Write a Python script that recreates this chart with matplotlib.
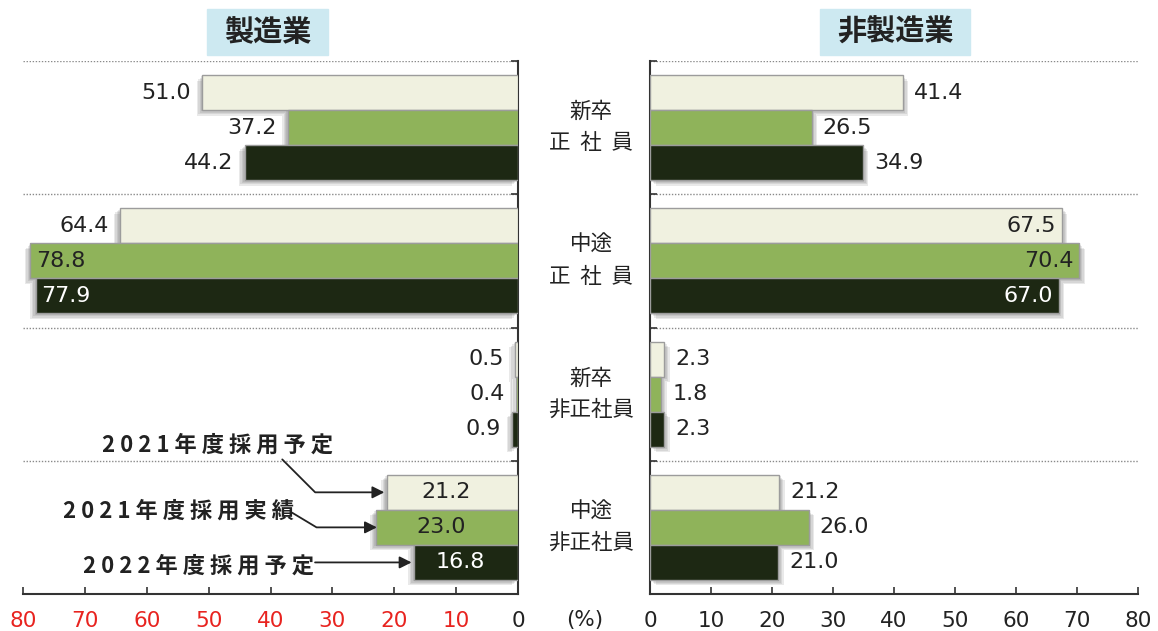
import numpy as np
import matplotlib.pyplot as plt
import matplotlib.patches as mpatches
import matplotlib.patheffects as pe

plt.rcParams['font.family'] = ['Noto Sans CJK JP', 'DejaVu Sans']

groups = ['新卒\n正  社  員', '中途\n正  社  員', '新卒\n非正社員', '中途\n非正社員']
series = ['2021年度採用予定', '2021年度採用実績', '2022年度採用予定']

# 製造業
mfg_plan21 = [51.0, 64.4, 0.5, 21.2]
mfg_act21 = [37.2, 78.8, 0.4, 23.0]
mfg_plan22 = [44.2, 77.9, 0.9, 16.8]

# 非製造業
non_plan21 = [41.4, 67.5, 2.3, 21.2]
non_act21 = [26.5, 70.4, 1.8, 26.0]
non_plan22 = [34.9, 67.0, 2.3, 21.0]

xticks = [0, 10, 20, 30, 40, 50, 60, 70, 80]

colors = ['#f0f1e0', '#8fb35a', '#1d2813']
text_cols = ['#222222', '#222222', 'white']
bar_h = 0.263
offs = [-bar_h, 0, bar_h]
num_font = dict(family='DejaVu Sans', fontsize=16)

fig = plt.figure(figsize=(11.58, 6.31), dpi=100)
axL = fig.add_axes([23/1158, 1 - 594/631, 495/1158, 533/631])
axR = fig.add_axes([650/1158, 1 - 594/631, 488/1158, 533/631])


def shadow(sign):
    fx = [pe.SimplePatchShadow(offset=(sign * d, -d), shadow_rgbFace='0.35', alpha=0.13)
          for d in (1, 2, 3, 4)]
    return fx + [pe.Normal()]


def draw_panel(ax, data, left):
    sign = -1 if left else 1
    y = np.arange(len(groups)) + 0.5
    for k, vals in enumerate(data):
        bars = ax.barh(y + offs[k], vals, height=bar_h, color=colors[k],
                       edgecolor='#9c9c9c', linewidth=1.0, zorder=3)
        for b in bars:
            b.set_path_effects(shadow(sign))
        for i, v in enumerate(vals):
            yy = y[i] + offs[k]
            lab = f'{v:.1f}'
            if left and i == 3:
                ax.text(v / 2 + 1, yy, lab, ha='center', va='center',
                        color=text_cols[k], zorder=5, **num_font)
            elif v > 65:
                ax.annotate(lab, (v, yy), xytext=(-sign * 4, 0), textcoords='offset points',
                            ha='left' if left else 'right', va='center',
                            color=text_cols[k], zorder=5, **num_font)
            else:
                ax.annotate(lab, (v, yy), xytext=(sign * 8, 0), textcoords='offset points',
                            ha='right' if left else 'left', va='center',
                            color='#222222', zorder=5, **num_font)
    # separators
    for s in range(len(groups)):
        ax.axhline(s, color='#8a8a8a', lw=1, ls=(0, (1, 1.2)), zorder=1)
    ax.set_ylim(len(groups), 0)
    ax.set_xlim(80, 0) if left else ax.set_xlim(0, 80)
    ax.set_yticks(range(len(groups)))
    ax.set_yticklabels([])
    ax.set_xticks(xticks)
    ax.set_xticklabels([str(t) for t in xticks], family='DejaVu Sans', fontsize=15.5)
    ax.tick_params(axis='both', direction='in', length=5, width=1.2, color='#333333')
    ax.tick_params(axis='x', pad=12)
    for sp in ['top', 'left', 'right']:
        ax.spines[sp].set_visible(False)
    ax.spines['bottom'].set_linewidth(1.5)
    ax.spines['bottom'].set_color('#333333')
    side = 'right' if left else 'left'
    ax.spines[side].set_visible(True)
    ax.spines[side].set_linewidth(1.5)
    ax.spines[side].set_color('#333333')
    if left:
        ax.yaxis.tick_right()
    ax.set_facecolor('none')


draw_panel(axL, [mfg_plan21, mfg_act21, mfg_plan22], True)
draw_panel(axR, [non_plan21, non_act21, non_plan22], False)

for t in axL.get_xticklabels():
    t.set_color('#222222' if t.get_text() == '0' else '#e8231f')
for t in axR.get_xticklabels():
    t.set_color('#222222')

fig.text(585 / 1158, 1 - 620 / 631, '(%)', ha='center', va='center', color='#222222',
         family='DejaVu Sans', fontsize=15.5)

# group labels in the middle
for i, g in enumerate(groups):
    yc = 1 - (61 + 133.25 * (i + 0.5)) / 631
    fig.text(591 / 1158, yc, g, ha='center', va='center', fontsize=15.5,
             linespacing=1.55, color='#222222')

# panel titles
for x0, w, title in [(207, 121, '製造業'), (820, 150, '非製造業')]:
    fig.patches.append(mpatches.Rectangle((x0 / 1158, 1 - 55 / 631), w / 1158, 46 / 631,
                                          transform=fig.transFigure, color='#cde9f1', zorder=0))
    fig.text((x0 + w / 2) / 1158, 1 - 32 / 631, title, ha='center', va='center',
             fontsize=21, fontweight='bold', color='#222222')

# series callouts: text, text position, arrow start, arrow tip, connector
callouts = [
    (series[0], (48.5, 2.88), (38.1, 2.99), (21.6, 3.237), 'angle,angleA=-45,angleB=180,rad=0'),
    (series[1], (54.8, 3.38), (36.5, 3.39), (22.8, 3.5), 'angle,angleA=-31,angleB=180,rad=0'),
    (series[2], (51.6, 3.79), (32.8, 3.763), (17.2, 3.763), 'arc3,rad=0'),
]
for txt, pos, start, tip, conn in callouts:
    axL.text(pos[0], pos[1], ' '.join(txt), ha='center', va='center', fontsize=16,
             fontweight='bold', color='#222222', zorder=6)
    axL.annotate('', xy=tip, xytext=start, zorder=6, annotation_clip=False,
                 arrowprops=dict(arrowstyle='-|>', color='#222222', lw=1.3, mutation_scale=18,
                                 shrinkA=0, shrinkB=0, connectionstyle=conn))

fig.savefig('out.png', dpi=100)
